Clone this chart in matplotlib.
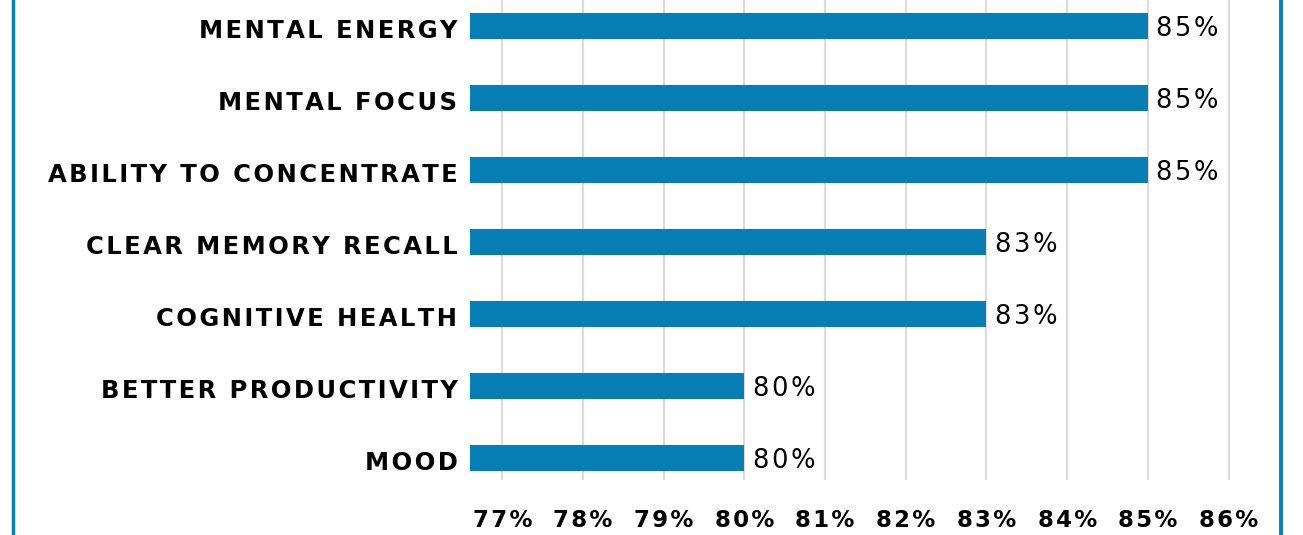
import matplotlib
matplotlib.use("Agg")
from matplotlib import pyplot as plt
from matplotlib.lines import Line2D
from matplotlib.transforms import ScaledTranslation

categories = [
    "MENTAL ENERGY",
    "MENTAL FOCUS",
    "ABILITY TO CONCENTRATE",
    "CLEAR MEMORY RECALL",
    "COGNITIVE HEALTH",
    "BETTER PRODUCTIVITY",
    "MOOD",
]
values = [85, 85, 85, 83, 83, 80, 80]
tick_values = [77, 78, 79, 80, 81, 82, 83, 84, 85, 86]

BLUE = "#087FB4"
W, H = 1303, 535
HAIR = "\u200a"


def spaced(s):
    # fake letter spacing with hair spaces
    return HAIR.join(s)


fig = plt.figure(figsize=(W / 100, H / 100), dpi=100)
ax = fig.add_axes([470 / W, 1 - 480 / H, 790 / W, 480 / H])

pos = list(range(len(categories)))
ax.barh(pos, values, left=0, height=0.36, color=BLUE, zorder=3)

ax.set_xlim(76.6, 86.39)
ax.set_ylim(6.306, -0.361)

ax.set_xticks(tick_values)
ax.set_xticklabels([spaced(f"{v}%") for v in tick_values], fontsize=16.5, fontweight="bold")
ax.set_yticks(pos)
ax.set_yticklabels([spaced(c) for c in categories], fontsize=17.5, fontweight="bold")
ax.tick_params(axis="x", length=0, pad=21)
ax.tick_params(axis="y", length=0, pad=9)
# nudge category labels down a little, like the original
for lbl in ax.get_yticklabels():
    lbl.set_transform(lbl.get_transform() + ScaledTranslation(0, -2 / 72, fig.dpi_scale_trans))
ax.grid(axis="x", color="#DCDCDC", linewidth=1.6, zorder=0)
for s in ax.spines.values():
    s.set_visible(False)

for p, v in zip(pos, values):
    ax.annotate(spaced(f"{v}%"), xy=(v, p), xytext=(6, -2), textcoords="offset points",
                va="center", ha="left", fontsize=18.5)

# blue frame lines at the left and right edges
fig.add_artist(Line2D([13.5 / W] * 2, [0, 1], color=BLUE, linewidth=2.5))
fig.add_artist(Line2D([1281 / W] * 2, [0, 1], color=BLUE, linewidth=2.8))

fig.savefig("out.png", dpi=100)
